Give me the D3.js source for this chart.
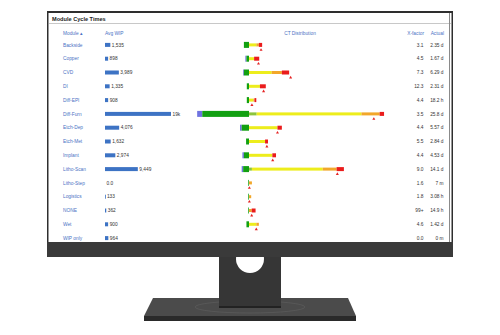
<!DOCTYPE html>
<html>
<head>
<meta charset="utf-8">
<script src="https://cdn.jsdelivr.net/npm/d3@7"></script>
<style>
  body { margin: 0; background: #fff; }
  svg { display: block; font-family: "Liberation Sans", Arial, sans-serif; }
</style>
</head>
<body>
<svg id="chart" width="500" height="335"></svg>
<script>
// table rows
var modules = ["Backside", "Copper", "CVD", "DI", "Diff-EPI", "Diff-Furn", "Etch-Dep", "Etch-Met",
    "Implant", "Litho-Scan", "Litho-Step", "Logistics", "NONE", "Wet", "WIP only"];
var avgWip = [1535, 898, 3989, 1335, 908, 19000, 4076, 1632, 2974, 9449, 0, 133, 362, 900, 964];
var wipLabels = ["1,535", "898", "3,989", "1,335", "908", "19k", "4,076", "1,632", "2,974", "9,449",
    "0.0", "133", "362", "900", "964"];
var xFactor = ["3.1", "4.5", "7.3", "12.3", "4.4", "3.5", "4.4", "5.5", "4.4", "9.0", "1.6", "1.8", "99+", "4.6", "0.0"];
var actualCT = ["2.35 d", "1.67 d", "6.29 d", "2.31 d", "18.2 h", "25.8 d", "5.57 d", "2.84 d", "4.53 d",
    "14.1 d", "7 m", "3.08 h", "14.9 h", "1.42 d", "0 m"];

// CT distribution, days (left part goes left of zero, right part cumulative ends)
var ctGreen  = [0.7, 0.35, 0.7, 0.3, 0.3, 6.4, 1.0, 0.4, 0.7, 0.8, 0.1, 0.1, 0.1, 0.35, 0];
var ctBlue   = [0.7, 0.5, 0.8, 0.3, 0.3, 7.1, 1.23, 0.4, 0.9, 1.0, 0.1, 0.1, 0.1, 0.35, 0];
var ctStart  = [0, 0, 0, 0, 0, 1.05, 0, 0, 0, 0.4, 0, 0, 0, 0, 0];
var ctYellow = [1.0, 0.7, 3.1, 1.5, 0.6, 15.4, 3.9, 2.2, 3.2, 10.1, 0, 0, 0, 1.0, 0];
var ctOrange = [1.35, 0.7, 4.5, 1.5, 0.75, 17.9, 3.9, 2.2, 3.2, 12.0, 0.4, 0.3, 0.37, 1.35, 0];
var ctRed    = [1.8, 1.4, 5.5, 2.3, 1.0, 18.5, 4.5, 2.6, 3.7, 13.0, 0.4, 0.3, 0.9, 1.35, 0];
var ctTarget = [1.65, 1.3, 5.7, 2.0, 0.4, 17.1, 3.9, 2.45, 3.25, 12.1, 0.05, 0.05, 0.37, 1.0, null];

var svg = d3.select("#chart");

// ---- monitor body ----
svg.append("rect").attr("x", 47).attr("y", 11).attr("width", 406).attr("height", 246).attr("fill", "#2e2e2e");
svg.append("rect").attr("x", 47).attr("y", 242).attr("width", 406).attr("height", 15).attr("fill", "#3a3a3a");

// neck with hole
svg.append("rect").attr("x", 219).attr("y", 257).attr("width", 62).attr("height", 51).attr("fill", "#363636");
svg.append("clipPath").attr("id", "neckClip")
    .append("rect").attr("x", 219).attr("y", 257).attr("width", 62).attr("height", 51);
svg.append("circle").attr("cx", 250).attr("cy", 259).attr("r", 14).attr("fill", "#fff")
    .attr("clip-path", "url(#neckClip)");

// base
svg.append("path").attr("d", "M153,298 L348,298 L356,316 L144,316 Z").attr("fill", "#4b4b4b");
svg.append("rect").attr("x", 144).attr("y", 316).attr("width", 212).attr("height", 5).attr("fill", "#2a2a2a");
svg.append("ellipse").attr("cx", 250).attr("cy", 307).attr("rx", 55).attr("ry", 6)
    .attr("fill", "none").attr("stroke", "#5a5a5a").attr("stroke-width", 0.8);
// neck sits in front of the base
svg.append("rect").attr("x", 219).attr("y", 298).attr("width", 62).attr("height", 10).attr("fill", "#363636");
svg.append("rect").attr("x", 219).attr("y", 306).attr("width", 62).attr("height", 2).attr("fill", "#222");

// ---- screen ----
var screen = svg.append("g");
screen.append("rect").attr("x", 48.5).attr("y", 13).attr("width", 403).attr("height", 229).attr("fill", "#fff");
screen.append("line").attr("x1", 49).attr("x2", 451).attr("y1", 23.5).attr("y2", 23.5)
    .attr("stroke", "#c8c8c8").attr("stroke-width", 1);
screen.append("line").attr("x1", 449.5).attr("x2", 449.5).attr("y1", 13).attr("y2", 242)
    .attr("stroke", "#8a8a8a").attr("stroke-width", 1);

screen.append("text").attr("x", 52).attr("y", 20.5).attr("font-size", 5.6).attr("font-weight", "bold")
    .attr("fill", "#222").text("Module Cycle Times");

var blueText = "#4a72c4";
var headerY = 35;
var header = [
    {t: "Module \u25B4", x: 63, a: "start"},
    {t: "Avg WIP", x: 105, a: "start"},
    {t: "CT Distribution", x: 300, a: "middle"},
    {t: "X-factor", x: 424, a: "end"},
    {t: "Actual", x: 444, a: "end"}
];
screen.selectAll("text.hdr").data(header).enter().append("text")
    .attr("class", "hdr")
    .attr("x", function (d) { return d.x; })
    .attr("y", headerY)
    .attr("text-anchor", function (d) { return d.a; })
    .attr("font-size", 4.8)
    .attr("fill", blueText)
    .text(function (d) { return d.t; });

var y = d3.scaleBand().domain(modules).range([38, 245]).paddingInner(0);
var wipX = d3.scaleLinear().domain([0, 19000]).range([0, 66]);
var ctX = d3.scaleLinear().domain([-8, 20]).range([249 - 8 * 7.3, 249 + 20 * 7.3]);

var rows = screen.selectAll("g.row").data(modules).enter().append("g")
    .attr("class", "row")
    .attr("transform", function (d) { return "translate(0," + (y(d) + y.bandwidth() / 2) + ")"; });

rows.append("text").attr("x", 63).attr("y", 1.7).attr("font-size", 4.8).attr("fill", blueText)
    .text(function (d) { return d; });

// avg wip bars
rows.append("rect")
    .attr("x", 105)
    .attr("y", -2)
    .attr("width", function (d, i) { return avgWip[i] > 0 ? Math.max(0.8, wipX(avgWip[i])) : 0; })
    .attr("height", 4)
    .attr("fill", "#3d73c4");
rows.append("text")
    .attr("x", function (d, i) { return 105 + wipX(avgWip[i]) + 1.5; })
    .attr("y", 1.7)
    .attr("font-size", 4.8)
    .attr("fill", "#333")
    .text(function (d, i) { return wipLabels[i]; });

// CT distribution segments
function seg(sel, x0, x1, h, color) {
    sel.append("rect")
        .attr("x", function (d, i) { return Math.min(ctX(x0(i)), ctX(x1(i))); })
        .attr("width", function (d, i) { return Math.abs(ctX(x1(i)) - ctX(x0(i))); })
        .attr("y", -h / 2)
        .attr("height", h)
        .attr("fill", color);
}
seg(rows, function (i) { return -ctGreen[i]; }, function (i) { return -ctBlue[i]; }, 6, "#6f73e0");
seg(rows, function (i) { return 0; }, function (i) { return -ctGreen[i]; }, 6, "#12a012");
seg(rows, function (i) { return 0; }, function (i) { return ctStart[i]; }, 3, "#8cc43c");
seg(rows, function (i) { return ctStart[i]; }, function (i) { return Math.max(ctStart[i], ctYellow[i]); }, 3, "#eded1c");
seg(rows, function (i) { return ctYellow[i]; }, function (i) { return ctOrange[i]; }, 3, "#f2a72a");
seg(rows, function (i) { return ctOrange[i]; }, function (i) { return ctRed[i]; }, 4, "#ea1c1c");

rows.filter(function (d, i) { return ctTarget[i] !== null; })
    .append("path")
    .attr("transform", function (d) {
        var i = modules.indexOf(d);
        return "translate(" + ctX(ctTarget[i]) + ",5)";
    })
    .attr("d", d3.symbol().type(d3.symbolTriangle).size(4))
    .attr("fill", "#e52222");

// right columns
rows.append("text").attr("x", 423.5).attr("y", 1.7).attr("text-anchor", "end")
    .attr("font-size", 4.8).attr("fill", "#333")
    .text(function (d, i) { return xFactor[i]; });
rows.append("text").attr("x", 443.5).attr("y", 1.7).attr("text-anchor", "end")
    .attr("font-size", 4.8).attr("fill", "#333")
    .text(function (d, i) { return actualCT[i]; });
</script>
</body>
</html>
